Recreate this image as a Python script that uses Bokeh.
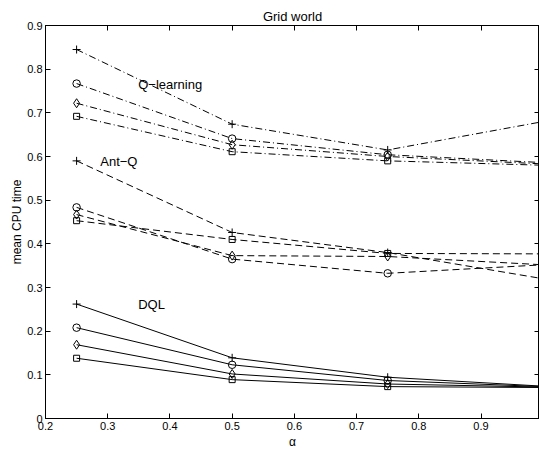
from bokeh.plotting import figure
from bokeh.models import LinearAxis, Range1d, Label, FixedTicker
from bokeh.embed import file_html
from bokeh.resources import INLINE

# ---- data ----
alpha = [0.25, 0.5, 0.75, 1.0]

q_plus = [0.845, 0.674, 0.615, 0.680]
q_circle = [0.767, 0.641, 0.604, 0.586]
q_diamond = [0.722, 0.627, 0.600, 0.583]
q_square = [0.692, 0.611, 0.590, 0.580]

ant_plus = [0.590, 0.426, 0.380, 0.320]
ant_circle = [0.4835, 0.365, 0.3325, 0.352]
ant_diamond = [0.467, 0.373, 0.371, 0.352]
ant_square = [0.453, 0.410, 0.378, 0.377]

dql_plus = [0.262, 0.139, 0.0945, 0.074]
dql_circle = [0.208, 0.123, 0.087, 0.073]
dql_diamond = [0.169, 0.102, 0.079, 0.072]
dql_square = [0.138, 0.089, 0.073, 0.071]

x_ticks = [0.2, 0.3, 0.4, 0.5, 0.6, 0.7, 0.8, 0.9]
x_tick_labels = ["0.2", "0.3", "0.4", "0.5", "0.6", "0.7", "0.8", "0.9"]
y_ticks = [0.0, 0.1, 0.2, 0.3, 0.4, 0.5, 0.6, 0.7, 0.8, 0.9]
y_tick_labels = ["0", "0.1", "0.2", "0.3", "0.4", "0.5", "0.6", "0.7", "0.8", "0.9"]

group_labels = ["Q\u2212learning", "Ant\u2212Q", "DQL"]
group_label_x = [0.349, 0.288, 0.349]
group_label_y = [0.766, 0.588, 0.262]

FONT = "Liberation Sans"

p = figure(width=539, height=453, output_backend="svg", toolbar_location=None,
           x_range=Range1d(0.2, 0.994), y_range=Range1d(0, 0.9),
           title="Grid world", min_border_left=45, min_border_right=0,
           min_border_top=25, min_border_bottom=35)
p.title.align = "center"
p.title.text_font = FONT
p.title.text_font_size = "13px"
p.title.text_font_style = "normal"
p.title.text_color = "black"
p.title.standoff = 4
p.xgrid.visible = False
p.ygrid.visible = False
p.outline_line_color = "black"
p.outline_line_alpha = 1.0
p.background_fill_color = "white"
p.border_fill_color = "white"

def style_axis(ax, ticks, labels, show_labels=True):
    ax.ticker = FixedTicker(ticks=ticks)
    ax.major_tick_in = 5
    ax.major_tick_out = 0
    ax.minor_tick_line_color = None
    ax.axis_line_color = "black"
    ax.major_tick_line_color = "black"
    if show_labels:
        ax.major_label_overrides = {t: l for t, l in zip(ticks, labels)}
        ax.major_label_text_font = FONT
        ax.major_label_text_font_size = "11px"
        ax.major_label_text_color = "black"
        ax.major_label_standoff = 3
    else:
        ax.major_label_text_color = None
        ax.major_label_text_font_size = "1px"
        ax.major_label_standoff = 0
    ax.axis_label_text_font = FONT
    ax.axis_label_text_font_size = "12px"
    ax.axis_label_text_font_style = "normal"
    ax.axis_label_text_color = "black"
    ax.axis_label_standoff = 2

style_axis(p.xaxis[0], x_ticks, x_tick_labels)
style_axis(p.yaxis[0], y_ticks, y_tick_labels)
p.xaxis[0].axis_label = "\u03b1"
p.yaxis[0].axis_label = "mean CPU time"
p.yaxis[0].axis_label_standoff = 0

top = LinearAxis()
style_axis(top, x_ticks, x_tick_labels, show_labels=False)
p.add_layout(top, "above")
right = LinearAxis()
style_axis(right, y_ticks, y_tick_labels, show_labels=False)
p.add_layout(right, "right")

groups = [
    ([q_plus, q_circle, q_diamond, q_square], "7 3 1 3"),
    ([ant_plus, ant_circle, ant_diamond, ant_square], "7 4"),
    ([dql_plus, dql_circle, dql_diamond, dql_square], "solid"),
]
markers = ["cross", "circle", "diamond", "square"]
msizes = [8, 7.5, 9, 6]

for series_list, dash in groups:
    for ys, mk, ms in zip(series_list, markers, msizes):
        p.line(alpha, ys, line_color="black", line_width=1, line_dash=dash)
        p.scatter(alpha, ys, marker=mk, size=ms, line_color="black",
                  fill_color=None, line_width=1)

for t, x, y in zip(group_labels, group_label_x, group_label_y):
    p.add_layout(Label(x=x, y=y, text=t, text_font=FONT, text_font_size="13px",
                       text_baseline="middle", text_align="left", text_color="black"))

open("out.html", "w").write(file_html(p, INLINE))
